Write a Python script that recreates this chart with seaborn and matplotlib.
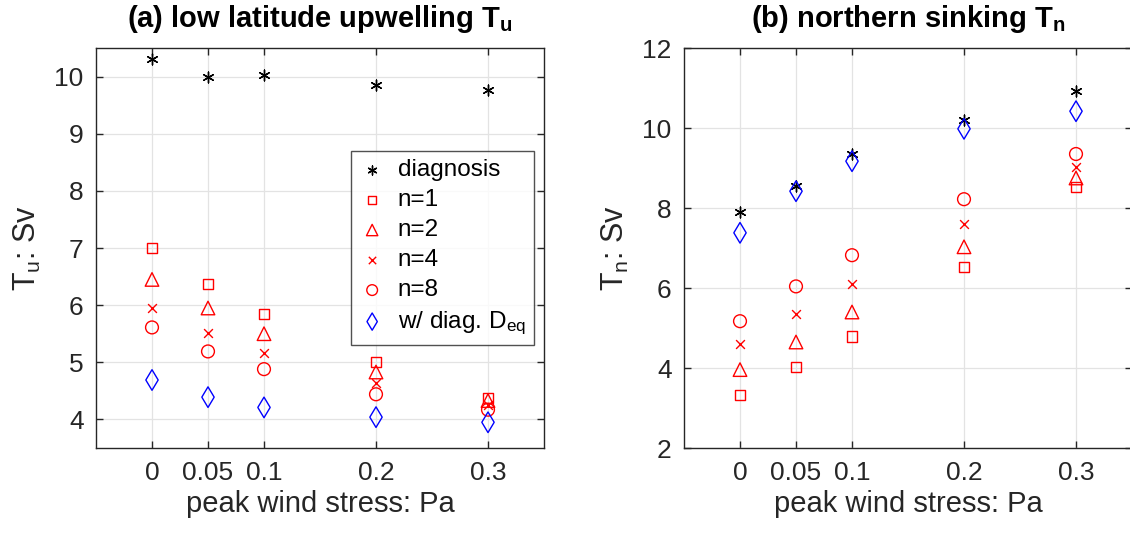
import numpy as np
import pandas as pd
import seaborn as sns
import matplotlib
matplotlib.use("Agg")
import matplotlib.pyplot as plt

# ---------------- data ----------------
wind = [0, 0.05, 0.1, 0.2, 0.3]
xtick_labels = ["0", "0.05", "0.1", "0.2", "0.3"]

# (a) low latitude upwelling Tu
tu_diag = [10.30, 10.00, 10.03, 9.85, 9.77]
tu_n1 = [7.00, 6.37, 5.85, 5.00, 4.37]
tu_n2 = [6.45, 5.95, 5.50, 4.83, 4.33]
tu_n4 = [5.95, 5.52, 5.16, 4.63, 4.26]
tu_n8 = [5.61, 5.19, 4.88, 4.44, 4.17]
tu_deq = [4.69, 4.39, 4.21, 4.04, 3.95]

# (b) northern sinking Tn
tn_diag = [7.89, 8.56, 9.35, 10.19, 10.92]
tn_n1 = [3.32, 4.02, 4.79, 6.53, 8.53]
tn_n2 = [3.96, 4.65, 5.40, 7.03, 8.75]
tn_n4 = [4.61, 5.35, 6.11, 7.61, 9.03]
tn_n8 = [5.17, 6.04, 6.82, 8.22, 9.35]
tn_deq = [7.38, 8.42, 9.17, 9.98, 10.42]

labels = ["diagnosis", "n=1", "n=2", "n=4", "n=8", "w/ diag. D$_{eq}$"]

# ---------------- style ----------------
sns.set_theme(style="white")
plt.rcParams["font.family"] = ["Liberation Sans", "DejaVu Sans"]
plt.rcParams["mathtext.fontset"] = "custom"
plt.rcParams["mathtext.rm"] = "Liberation Sans"
plt.rcParams["mathtext.it"] = "Liberation Sans"
plt.rcParams["mathtext.bf"] = "Liberation Sans:bold"
plt.rcParams["mathtext.default"] = "regular"

TXT = "#262626"

styles = [
    dict(marker=(6, 2, 0), color="black", s=60, lw=1.0),
    dict(marker="s", color="red", s=55, lw=1.0),
    dict(marker="^", color="red", s=95, lw=1.0),
    dict(marker="x", color="red", s=40, lw=1.0),
    dict(marker="o", color="red", s=85, lw=1.0),
    dict(marker="d", color="blue", s=110, lw=1.0),
]

fig = plt.figure(figsize=(11.3, 5.33), dpi=100)
W, H = 1130, 533
ax1 = fig.add_axes([96 / W, 85 / H, 448 / W, 400 / H])
ax2 = fig.add_axes([684 / W, 85 / H, 448 / W, 400 / H])

series_a = [tu_diag, tu_n1, tu_n2, tu_n4, tu_n8, tu_deq]
series_b = [tn_diag, tn_n1, tn_n2, tn_n4, tn_n8, tn_deq]


def mk_kw(st):
    m = st["marker"]
    if m == "x" or isinstance(m, tuple):
        return dict(color=st["color"], linewidth=st["lw"])
    return dict(facecolors="none", edgecolors=st["color"], linewidth=st["lw"])


def draw(ax, series):
    handles = []
    for vals, st in zip(series, styles):
        df = pd.DataFrame({"x": wind, "y": vals})
        sns.scatterplot(data=df, x="x", y="y", ax=ax, marker=st["marker"],
                        s=st["s"], legend=False, zorder=3, **mk_kw(st))
        h = ax.scatter([], [], marker=st["marker"], s=st["s"] * 0.7, **mk_kw(st))
        handles.append(h)
    ax.set_xlim(-0.05, 0.35)
    ax.set_xticks(wind)
    ax.set_xticklabels(xtick_labels)
    ax.grid(True, color="#e3e3e3", linewidth=0.9)
    ax.set_axisbelow(True)
    ax.tick_params(direction="in", length=5, width=1, top=True, right=True,
                   bottom=True, left=True, labelsize=19, colors=TXT, pad=9)
    for sp in ax.spines.values():
        sp.set_color(TXT)
        sp.set_linewidth(1.0)
    ax.set_xlabel("peak wind stress: Pa", fontsize=21, color=TXT, labelpad=4)
    return handles


handles = draw(ax1, series_a)
ax1.set_ylim(3.5, 10.5)
ax1.set_yticks([4, 5, 6, 7, 8, 9, 10])
ax1.set_ylabel("T$_{u}$: Sv", fontsize=22, color=TXT, labelpad=8)
ax1.set_title(r"(a) low latitude upwelling T$_\mathbf{u}$", fontsize=21,
              fontweight="bold", pad=15, color="black")
leg = ax1.legend(handles, labels, loc="upper right",
                 bbox_to_anchor=(0.978, 0.743), borderaxespad=0, fontsize=17.5,
                 frameon=True, fancybox=False, edgecolor=TXT,
                 handletextpad=0.55, labelspacing=0.33, borderpad=0.35,
                 handlelength=1.0)
leg.get_frame().set_linewidth(1.0)
leg.set_zorder(5)
for t in leg.get_texts():
    t.set_color("black")

draw(ax2, series_b)
ax2.set_ylim(2, 12)
ax2.set_yticks([2, 4, 6, 8, 10, 12])
ax2.set_ylabel("T$_{n}$: Sv", fontsize=22, color=TXT, labelpad=8)
ax2.set_title(r"(b) northern sinking T$_\mathbf{n}$", fontsize=21,
              fontweight="bold", pad=15, color="black")

fig.savefig("out.png", dpi=100)
